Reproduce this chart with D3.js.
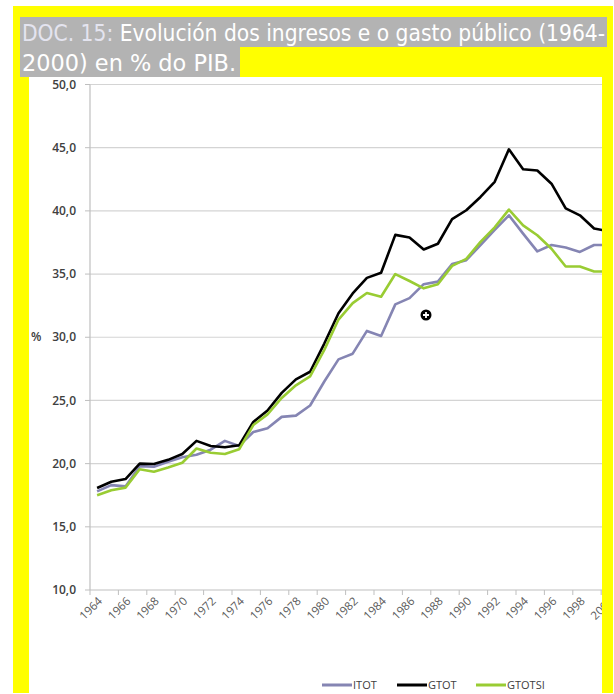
<!DOCTYPE html>
<html lang="gl">
<head>
<meta charset="UTF-8">
<title>DOC. 15: Evolución dos ingresos e o gasto público</title>
<script src="https://d3js.org/d3.v7.min.js"></script>
<style>
    body { margin: 0; padding: 0; background: #fff; }
    svg { display: block; }
    .ylab { font-family: "Open Sans", "Liberation Sans", sans-serif; font-size: 12px; font-weight: 600; fill: #404040; }
    .xlab { font-family: "Open Sans", "Liberation Sans", sans-serif; font-size: 11.5px; fill: #595959; }
    .leg  { font-family: "Open Sans", "Liberation Sans", sans-serif; font-size: 11px; fill: #404040; }
    .title { font-family: "DejaVu Sans Condensed", "Liberation Sans Narrow", sans-serif; font-size: 23px; fill: #fff; }
</style>
</head>
<body>
<div id="chart"></div>
<script>
// categories
const years = [1964, 1965, 1966, 1967, 1968, 1969, 1970, 1971, 1972, 1973,
               1974, 1975, 1976, 1977, 1978, 1979, 1980, 1981, 1982, 1983,
               1984, 1985, 1986, 1987, 1988, 1989, 1990, 1991, 1992, 1993,
               1994, 1995, 1996, 1997, 1998, 1999, 2000];

// ingresos totais
const itot = [17.8, 18.3, 18.2, 19.8, 19.75, 20.15, 20.5, 20.7, 21.1, 21.8,
              21.4, 22.5, 22.8, 23.7, 23.8, 24.6, 26.5, 28.25, 28.7, 30.5,
              30.1, 32.6, 33.1, 34.2, 34.4, 35.8, 36.1, 37.3, 38.5, 39.65,
              38.2, 36.8, 37.3, 37.1, 36.75, 37.3, 37.3];

// gasto total
const gtot = [18.07, 18.57, 18.78, 20.0, 19.97, 20.3, 20.76, 21.8, 21.4, 21.3,
              21.45, 23.3, 24.2, 25.6, 26.67, 27.27, 29.5, 31.9, 33.47, 34.7,
              35.1, 38.1, 37.9, 36.95, 37.4, 39.35, 40.05, 41.1, 42.3, 44.87,
              43.3, 43.2, 42.15, 40.2, 39.65, 38.6, 38.4];

// gasto sen intereses
const gtotsi = [17.5, 17.9, 18.1, 19.55, 19.36, 19.7, 20.07, 21.2, 20.86, 20.76,
                21.13, 23.05, 23.9, 25.2, 26.2, 26.9, 29.0, 31.4, 32.7, 33.5,
                33.2, 35.0, 34.45, 33.87, 34.2, 35.65, 36.2, 37.55, 38.7, 40.1,
                38.85, 38.07, 37.0, 35.6, 35.6, 35.2, 35.2];

const yTicks = [10, 15, 20, 25, 30, 35, 40, 45, 50];
const xLabelYears = [1964, 1966, 1968, 1970, 1972, 1974, 1976, 1978, 1980, 1982,
                     1984, 1986, 1988, 1990, 1992, 1994, 1996, 1998, 2000];

const series = [
    { name: "ITOT", values: itot, color: "#8585b3" },
    { name: "GTOT", values: gtot, color: "#000000" },
    { name: "GTOTSI", values: gtotsi, color: "#99cc33" }
];

const W = 614, H = 694;

const svg = d3.select("#chart").append("svg")
    .attr("width", W)
    .attr("height", H);

// yellow frame + white panel
svg.append("rect").attr("x", 13).attr("y", 6).attr("width", 600).attr("height", 687).attr("fill", "#ffff00");
svg.append("rect").attr("x", 29).attr("y", 77).attr("width", 573).attr("height", 617).attr("fill", "#fff");

svg.append("clipPath").attr("id", "panel")
  .append("rect").attr("x", 29).attr("y", 77).attr("width", 573).attr("height", 617);

// title boxes
svg.append("rect").attr("x", 20).attr("y", 17).attr("width", 587).attr("height", 30).attr("fill", "#b3b3b3");
svg.append("rect").attr("x", 20).attr("y", 47).attr("width", 220).attr("height", 30).attr("fill", "#b3b3b3");

const t1 = svg.append("text").attr("class", "title")
    .attr("x", 22).attr("y", 41)
    .attr("textLength", 583).attr("lengthAdjust", "spacingAndGlyphs");
t1.append("tspan").attr("fill", "#e4e4ef").text("DOC. 15: ");
t1.append("tspan").text("Evolución dos ingresos e o gasto público (1964-");

svg.append("text").attr("class", "title")
    .attr("x", 22).attr("y", 71)
    .attr("textLength", 214).attr("lengthAdjust", "spacingAndGlyphs")
    .text("2000) en % do PIB.");

// chart
const band = 14.2;
const x = d3.scaleBand()
    .domain(years)
    .range([90, 90 + band * years.length])
    .padding(0);

const y = d3.scaleLinear()
    .domain([10, 50])
    .range([590, 84.5]);

const g = svg.append("g").attr("clip-path", "url(#panel)");

// gridlines
g.selectAll("line.grid")
    .data(yTicks)
    .enter().append("line")
    .attr("class", "grid")
    .attr("x1", 90).attr("x2", x.range()[1])
    .attr("y1", d => y(d)).attr("y2", d => y(d))
    .attr("stroke", d => d === 10 ? "#bfbfbf" : "#d4d4d4")
    .attr("stroke-width", 1.2);

// y axis
g.append("line")
    .attr("x1", 90).attr("x2", 90)
    .attr("y1", y(50)).attr("y2", y(10))
    .attr("stroke", "#bfbfbf").attr("stroke-width", 1.2);

g.selectAll("line.ytick")
    .data(yTicks)
    .enter().append("line")
    .attr("class", "ytick")
    .attr("x1", 85).attr("x2", 90)
    .attr("y1", d => y(d)).attr("y2", d => y(d))
    .attr("stroke", "#bfbfbf");

svg.selectAll("text.ylab")
    .data(yTicks)
    .enter().append("text")
    .attr("class", "ylab")
    .attr("x", 76)
    .attr("y", d => y(d))
    .attr("dy", "0.35em")
    .attr("text-anchor", "end")
    .text(d => d3.format(".1f")(d).replace(".", ","));

svg.append("text").attr("class", "ylab")
    .attr("x", 31).attr("y", y(30)).attr("dy", "0.35em")
    .text("%");

// x ticks every two years
g.selectAll("line.xtick")
    .data(xLabelYears)
    .enter().append("line")
    .attr("class", "xtick")
    .attr("x1", d => x(d)).attr("x2", d => x(d))
    .attr("y1", y(10)).attr("y2", y(10) + 5)
    .attr("stroke", "#bfbfbf");

// labels clipped by the panel edge like the reference (2000 is cut)
g.selectAll("text.xlab")
    .data(xLabelYears)
    .enter().append("text")
    .attr("class", "xlab")
    .attr("text-anchor", "end")
    .attr("transform", d => `translate(${x(d) + x.bandwidth() / 2 + 3},${y(10) + 9}) rotate(-45)`)
    .attr("dy", "0.35em")
    .text(d => d);

// lines
const line = d3.line()
    .x((d, i) => x(years[i]) + x.bandwidth() / 2)
    .y(d => y(d));

g.selectAll("path.series")
    .data(series)
    .enter().append("path")
    .attr("class", "series")
    .attr("d", d => line(d.values))
    .attr("fill", "none")
    .attr("stroke", d => d.color)
    .attr("stroke-width", 2.6)
    .attr("stroke-linejoin", "round");

// legend
const legX = [322, 397, 476];
const leg = svg.selectAll("g.leg")
    .data(series)
    .enter().append("g")
    .attr("class", "leg")
    .attr("transform", (d, i) => `translate(${legX[i]},685)`);

leg.append("line")
    .attr("x1", 0).attr("x2", 30)
    .attr("stroke", d => d.color).attr("stroke-width", 3);

leg.append("text")
    .attr("class", "leg")
    .attr("x", 31).attr("dy", "0.35em")
    .text(d => d.name);

// cursor mark left in the screenshot
const cur = svg.append("g").attr("transform", "translate(426,315)");
cur.append("circle").attr("r", 5.5).attr("fill", "#000");
cur.append("path").attr("d", "M-3,0H3M0,-3V3").attr("stroke", "#fff").attr("stroke-width", 1.8);
</script>
</body>
</html>
